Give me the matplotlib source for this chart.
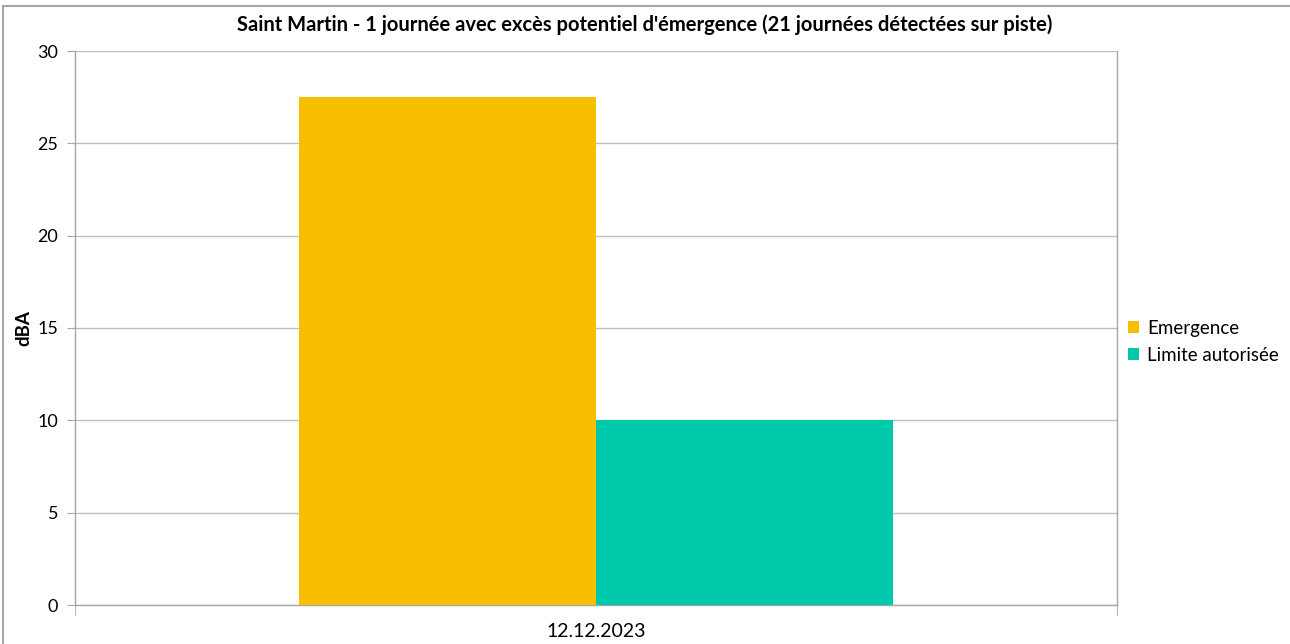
import matplotlib
matplotlib.use("Agg")
import matplotlib.pyplot as plt
import numpy as np
from matplotlib.lines import Line2D

plt.rcParams['font.family'] = ['Lato', 'DejaVu Sans']

title = "Saint Martin - 1 journée avec excès potentiel d'émergence (21 journées détectées sur piste)"
categories = ["12.12.2023"]
series_names = ["Emergence", "Limite autorisée"]
emergence = [27.5]
limite = [10]
colors = ["#F8BF00", "#00C8AA"]
y_label = "dBA"
y_ticks = [0, 5, 10, 15, 20, 25, 30]

fig = plt.figure(figsize=(12.9, 6.44), dpi=100)
# outer chart border (top and left edges visible)
fig.lines.append(Line2D([3/1290, 1.0], [1 - 6/644, 1 - 6/644], transform=fig.transFigure,
                        color="#A6A6A6", linewidth=1.5))
fig.lines.append(Line2D([3/1290, 3/1290], [0, 1 - 6/644], transform=fig.transFigure,
                        color="#A6A6A6", linewidth=1.5))

ax = fig.add_axes([75/1290, 1 - 605/644, (1117-75)/1290, (605-51)/644])

x = np.arange(len(categories))
bw = 0.285
ax.bar(x - bw/2, emergence, width=bw, color=colors[0], label=series_names[0], zorder=3)
ax.bar(x + bw/2, limite, width=bw, color=colors[1], label=series_names[1], zorder=3)

ax.set_xlim(-0.5, len(categories) - 0.5)
ax.set_ylim(0, 30)
ax.set_yticks(y_ticks)
ax.yaxis.grid(True, color="#BFBFBF", linewidth=1, zorder=0)
ax.set_axisbelow(True)
ax.tick_params(axis='y', labelsize=13, length=6, color="#A6A6A6", pad=6)
ax.set_xticks(x)
ax.set_xticklabels(categories, fontsize=14)
ax.tick_params(axis='x', length=0, pad=13)
# category boundary tick marks
ax.set_xticks([-0.5, 0.5], minor=True)
ax.tick_params(axis='x', which='minor', length=7, color="#A6A6A6")

for s in ['left', 'bottom', 'right']:
    ax.spines[s].set_color("#A6A6A6")
    ax.spines[s].set_linewidth(1)
ax.spines['top'].set_visible(False)

ax.set_ylabel(y_label, fontsize=13.5, fontweight='bold', labelpad=4)
fig.text(0.5, 1 - 25/644, title, ha='center', va='center',
         fontsize=14.5, fontweight='bold')

leg = ax.legend(loc='center left', bbox_to_anchor=(0.998, 0.475), frameon=False,
                fontsize=13.5, handlelength=0.6, handleheight=0.6, handletextpad=0.4,
                labelspacing=0.55, borderaxespad=0.3)

fig.savefig("out.png", dpi=100)
